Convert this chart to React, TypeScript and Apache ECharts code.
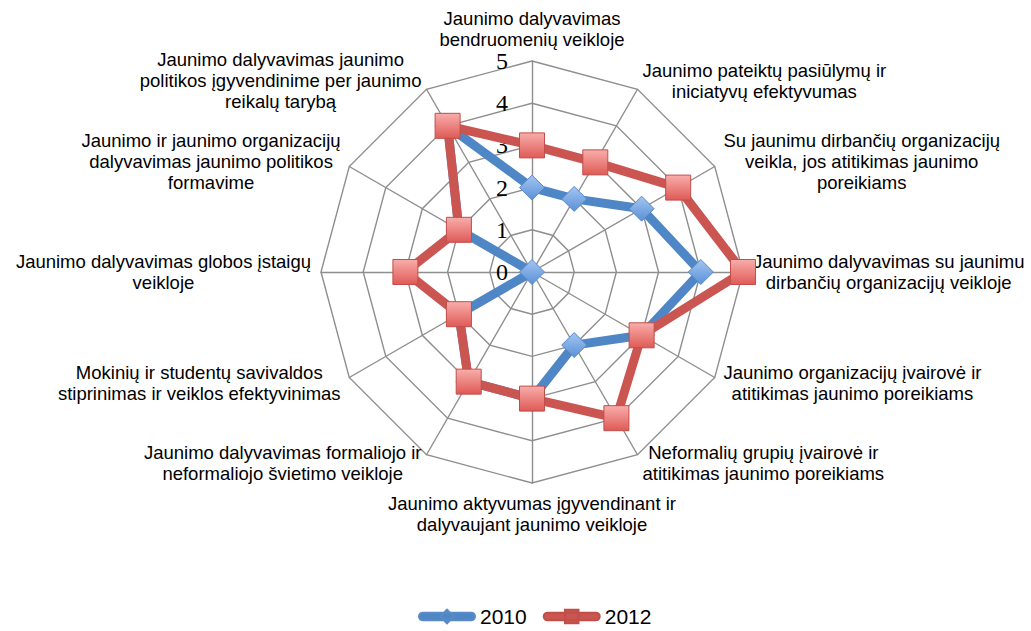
import React, { useEffect, useRef } from "react";
import * as echarts from "echarts";

// Indicators in clockwise order starting from the top
const categories: string[] = [
  "Jaunimo dalyvavimas\nbendruomenių veikloje",
  "Jaunimo pateiktų pasiūlymų ir\niniciatyvų efektyvumas",
  "Su jaunimu dirbančių organizacijų\nveikla, jos atitikimas jaunimo\nporeikiams",
  "Jaunimo dalyvavimas su jaunimu\ndirbančių organizacijų veikloje",
  "Jaunimo organizacijų įvairovė ir\natitikimas jaunimo poreikiams",
  "Neformalių grupių įvairovė ir\natitikimas jaunimo poreikiams",
  "Jaunimo aktyvumas įgyvendinant ir\ndalyvaujant jaunimo veikloje",
  "Jaunimo dalyvavimas formaliojo ir\nneformaliojo švietimo veikloje",
  "Mokinių ir studentų savivaldos\nstiprinimas ir veiklos efektyvinimas",
  "Jaunimo dalyvavimas globos įstaigų\nveikloje",
  "Jaunimo ir jaunimo organizacijų\ndalyvavimas jaunimo politikos\nformavime",
  "Jaunimo dalyvavimas jaunimo\npolitikos įgyvendinime per jaunimo\nreikalų tarybą",
];

const seriesNames: string[] = ["2010", "2012"];
const values2010: number[] = [2, 2, 3, 4, 3, 2, 3, 3, 2, 0, 2, 4];
const values2012: number[] = [3, 3, 4, 5, 3, 4, 3, 3, 2, 3, 2, 4];

const scaleMin = 0;
const scaleMax = 5;
const tickCount = 5;

// ECharts lays radar indicators out counter-clockwise; reorder to get clockwise
const ccw = <T,>(arr: T[]): T[] => [arr[0], ...arr.slice(1).reverse()];

const BLUE = "#4F86C6";
const RED = "#CB5651";

const legendBlue =
  "path://M4 4H54A4 4 0 0 1 54 12H4A4 4 0 0 1 4 4Z M29 1L36 8L29 15L22 8Z";
const legendRed =
  "path://M4 4H54A4 4 0 0 1 54 12H4A4 4 0 0 1 4 4Z M22 1H36V15H22Z";

export default function App() {
  const ref = useRef<HTMLDivElement>(null);

  useEffect(() => {
    if (!ref.current) return;
    const chart = echarts.init(ref.current, null, { renderer: "svg" });

    const indicator = ccw(categories).map((name, i) => {
      const ind: any = { name, min: scaleMin, max: scaleMax };
      if (i === 0) {
        ind.axisLabel = {
          show: true,
          fontFamily: "Liberation Serif",
          fontSize: 24,
          color: "#000",
          margin: 24,
        };
      }
      return ind;
    });

    chart.setOption({
      animation: false,
      backgroundColor: "#fff",
      legend: {
        left: 418,
        top: 606,
        padding: 0,
        itemWidth: 56,
        itemHeight: 16,
        itemGap: 16,
        textStyle: {
          fontFamily: "Liberation Sans",
          fontSize: 21,
          color: "#000",
        },
        data: [
          { name: seriesNames[0], icon: legendBlue, itemStyle: { color: BLUE } },
          { name: seriesNames[1], icon: legendRed, itemStyle: { color: RED } },
        ],
      },
      radar: {
        center: [532, 272],
        radius: 211,
        startAngle: 90,
        splitNumber: tickCount,
        shape: "polygon",
        nameGap: 10,
        indicator,
        axisName: {
          color: "#000",
          formatter: (name: string) =>
            name
              .split("\n")
              .map((l) => `{c|${l}}`)
              .join("\n"),
          rich: {
            c: {
              align: "center",
              fontFamily: "Liberation Sans",
              fontSize: 18.5,
              lineHeight: 21,
              color: "#000",
            },
          },
        },
        splitLine: { lineStyle: { color: "#8E8E8E", width: 1.4 } },
        splitArea: { show: false },
        axisLine: { lineStyle: { color: "#8E8E8E", width: 1.4 } },
        axisTick: { show: false },
        axisLabel: { show: false },
      },
      series: [
        {
          type: "radar",
          data: [
            {
              name: seriesNames[0],
              value: ccw(values2010),
              symbol: "diamond",
              symbolSize: 25,
              lineStyle: { color: BLUE, width: 9 },
              itemStyle: {
                color: new echarts.graphic.LinearGradient(0, 0, 0, 1, [
                  { offset: 0, color: "#A3C6F2" },
                  { offset: 1, color: "#5B90D6" },
                ]),
                borderColor: "#5A8AC6",
                borderWidth: 1,
              },
            },
            {
              name: seriesNames[1],
              value: ccw(values2012),
              symbol: "rect",
              symbolSize: 25,
              lineStyle: { color: RED, width: 9 },
              itemStyle: {
                color: new echarts.graphic.LinearGradient(0, 0, 0, 1, [
                  { offset: 0, color: "#F8AEAB" },
                  { offset: 1, color: "#DF5A56" },
                ]),
                borderColor: "#C24E4A",
                borderWidth: 1,
              },
            },
          ],
        },
      ],
    });

    return () => chart.dispose();
  }, []);

  return (
    <div
      ref={ref}
      style={{ position: "absolute", left: 0, top: 0, width: 1031, height: 631 }}
    />
  );
}
